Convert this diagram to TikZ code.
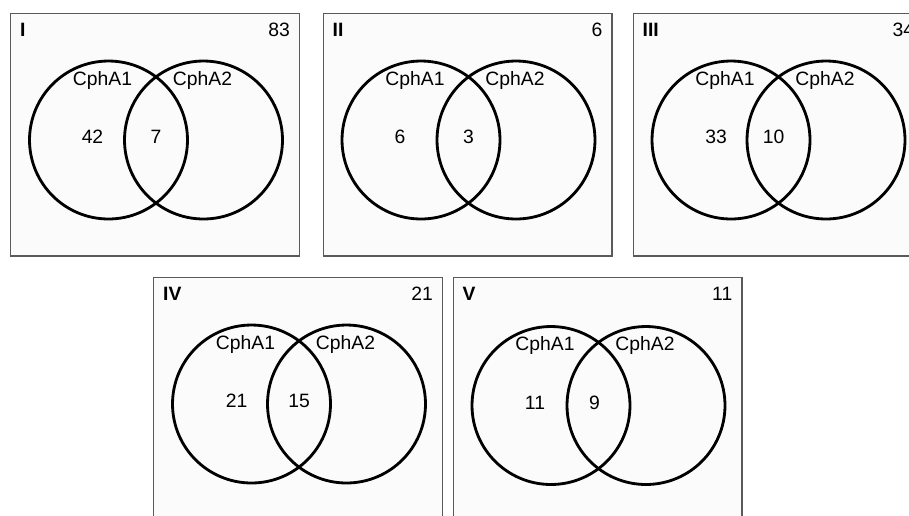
\documentclass[tikz,border=0pt]{standalone}
\usepackage{fontspec}
\setmainfont{Liberation Sans}
\usepackage{tikz}
\usetikzlibrary{positioning, calc}

\definecolor{framegray}{RGB}{90,90,90}
\definecolor{panelfill}{RGB}{251,251,251}

\begin{document}
\begin{tikzpicture}[
        x=0.02cm, y=-0.02cm,
        % Define common styles for the panels, sets and labels
        panel/.style={draw=framegray, line width=0.6pt, fill=panelfill, rectangle, minimum width=5.78cm, minimum height=4.86cm, inner sep=0pt},
        set/.style={draw, circle, line width=1.6pt, minimum size=3.16cm, inner sep=0pt},
        tag/.style={font=\fontsize{11}{13}\selectfont\bfseries},
        total/.style={font=\fontsize{11}{13}\selectfont},
        setname/.style={font=\fontsize{11}{13}\selectfont},
        count/.style={font=\fontsize{11}{13}\selectfont}
    ]
    \clip (0,0) rectangle (909,515);

        % Panel I
        \node[panel] (pI) at (155,134.5) {};
        \node[set] (aI) at ([shift={(-46.5,5.5)}]pI.center) {};
        \node[set] (bI) at ([shift={(48.5,5.5)}]pI.center) {};
        \node[tag, anchor=north west] (tI) at ([shift={(4,4)}]pI.north west) {I};
        \node[total, anchor=north east] (nI) at ([shift={(-4,4)}]pI.north east) {83};
        \node[setname] (saI) at ([shift={(-6,-60)}]aI.center) {CphA1};
        \node[setname] (sbI) at ([shift={(-1,-60)}]bI.center) {CphA2};
        \node[count] (caI) at ([shift={(-16,-3)}]aI.center) {42};
        \node[count] (cbI) at ($(aI.center)!0.5!(bI.center)+(0,-3)$) {7};

        % Panel II
        \node[panel] (pII) at (467.5,134.5) {};
        \node[set] (aII) at ([shift={(-46.5,5.5)}]pII.center) {};
        \node[set] (bII) at ([shift={(48.5,5.5)}]pII.center) {};
        \node[tag, anchor=north west] (tII) at ([shift={(4,4)}]pII.north west) {II};
        \node[total, anchor=north east] (nII) at ([shift={(-4,4)}]pII.north east) {6};
        \node[setname] (saII) at ([shift={(-6,-60)}]aII.center) {CphA1};
        \node[setname] (sbII) at ([shift={(-1,-60)}]bII.center) {CphA2};
        \node[count] (caII) at ([shift={(-21,-3)}]aII.center) {6};
        \node[count] (cbII) at ($(aII.center)!0.5!(bII.center)+(0,-3)$) {3};

        % Panel III
        \node[panel] (pIII) at (777.5,134.5) {};
        \node[set] (aIII) at ([shift={(-46.5,5.5)}]pIII.center) {};
        \node[set] (bIII) at ([shift={(48.5,5.5)}]pIII.center) {};
        \node[tag, anchor=north west] (tIII) at ([shift={(4,4)}]pIII.north west) {III};
        \node[total, anchor=north west] (nIII) at ([shift={(254,4)}]pIII.north west) {34};
        \node[setname] (saIII) at ([shift={(-6,-60)}]aIII.center) {CphA1};
        \node[setname] (sbIII) at ([shift={(-1,-60)}]bIII.center) {CphA2};
        \node[count] (caIII) at ([shift={(-15,-3)}]aIII.center) {33};
        \node[count] (cbIII) at ($(aIII.center)!0.5!(bIII.center)+(-5,-3)$) {10};

        % Panel IV
        \node[panel] (pIV) at (298,398.5) {};
        \node[set] (aIV) at ([shift={(-46.5,5.5)}]pIV.center) {};
        \node[set] (bIV) at ([shift={(48.5,5.5)}]pIV.center) {};
        \node[tag, anchor=north west] (tIV) at ([shift={(4,4)}]pIV.north west) {IV};
        \node[total, anchor=north east] (nIV) at ([shift={(-4,4)}]pIV.north east) {21};
        \node[setname] (saIV) at ([shift={(-6,-60)}]aIV.center) {CphA1};
        \node[setname] (sbIV) at ([shift={(-1,-60)}]bIV.center) {CphA2};
        \node[count] (caIV) at ([shift={(-15,-3)}]aIV.center) {21};
        \node[count] (cbIV) at ($(aIV.center)!0.5!(bIV.center)+(0,-3)$) {15};

        % Panel V
        \node[panel] (pV) at (597.5,398.5) {};
        \node[set] (aV) at ([shift={(-46.5,7)}]pV.center) {};
        \node[set] (bV) at ([shift={(48.5,7)}]pV.center) {};
        \node[tag, anchor=north west] (tV) at ([shift={(4,4)}]pV.north west) {V};
        \node[total, anchor=north east] (nV) at ([shift={(-4,4)}]pV.north east) {11};
        \node[setname] (saV) at ([shift={(-6,-60)}]aV.center) {CphA1};
        \node[setname] (sbV) at ([shift={(-1,-60)}]bV.center) {CphA2};
        \node[count] (caV) at ([shift={(-16,-3)}]aV.center) {11};
        \node[count] (cbV) at ($(aV.center)!0.5!(bV.center)+(-4,-3)$) {9};

\end{tikzpicture}
\end{document}
